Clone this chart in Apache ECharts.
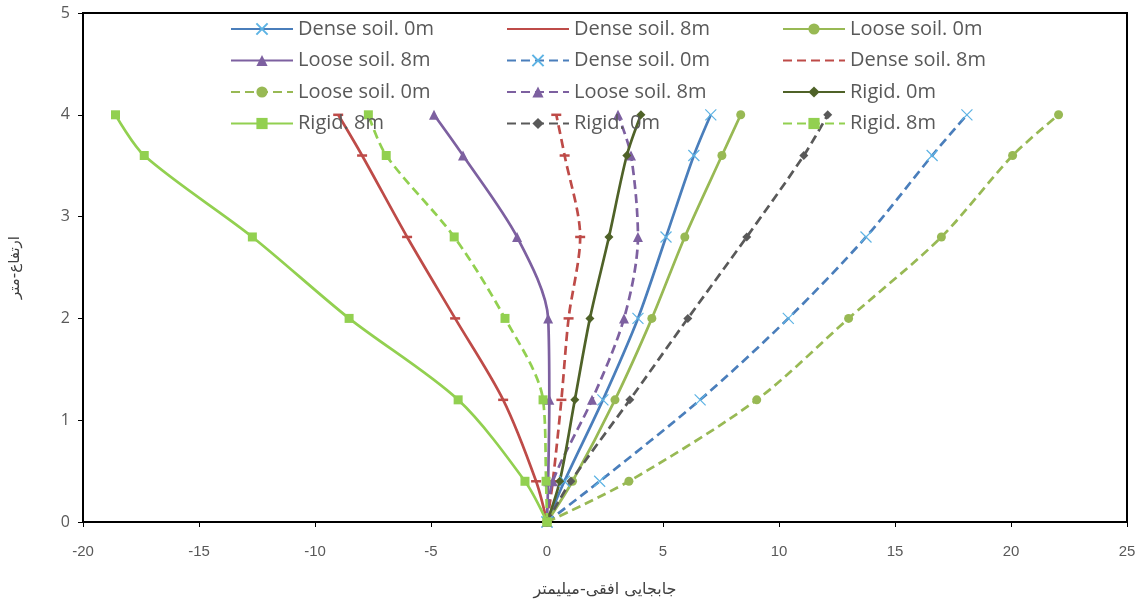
<!DOCTYPE html>
<html>
<head>
<meta charset="utf-8">
<script src="https://cdn.jsdelivr.net/npm/echarts@6/dist/echarts.min.js"></script>
<style>
html,body{margin:0;padding:0;background:#fff;}
#chart{width:1141px;height:603px;}
</style>
</head>
<body>
<div id="chart"></div>
<script>
// Heights (m)
const heights = [0, 0.4, 1.2, 2, 2.8, 3.6, 4];
// Horizontal displacement (mm) for each series, matching heights
const denseSoil0mSolid   = [0, 0.75, 2.41, 3.92, 5.13, 6.33, 7.06];
const denseSoil8mSolid   = [0, -0.47, -1.89, -3.96, -6.03, -7.97, -9.0];
const looseSoil0mSolid   = [0, 1.1, 2.93, 4.52, 5.94, 7.54, 8.35];
const looseSoil8mSolid   = [0, 0.05, 0.1, 0.05, -1.29, -3.62, -4.87];
const denseSoil0mDashed  = [0, 2.27, 6.6, 10.4, 13.75, 16.6, 18.1];
const denseSoil8mDashed  = [0, 0.25, 0.62, 0.93, 1.43, 0.76, 0.4];
const looseSoil0mDashed  = [0, 3.53, 9.04, 13.0, 17.0, 20.07, 22.05];
const looseSoil8mDashed  = [0, 0.25, 1.94, 3.32, 3.92, 3.62, 3.06];
const rigid0mSolid       = [0, 0.55, 1.2, 1.85, 2.67, 3.44, 4.05];
const rigid8mSolid       = [0, -0.95, -3.83, -8.53, -12.7, -17.36, -18.6];
const rigid0mDashed      = [0, 1.03, 3.57, 6.07, 8.61, 11.07, 12.1];
const rigid8mDashed      = [0, -0.04, -0.17, -1.81, -4.0, -6.93, -7.7];

const xTitle = 'جابجایی افقی-میلیمتر';
const yTitle = 'ارتفاع-متر';
const ZW = '\u200B'; // distinguishes duplicate legend names

const X_PATH = 'path://M0,0L10,10M10,0L0,10';

function pairs(xs){ return xs.map((x,i)=>[x, heights[i]]); }

function mk(name, xs, color, dashed, symbol, size, markerStyle){
  return {
    name: name,
    type: 'line',
    data: pairs(xs),
    smooth: 0.3,
    symbol: symbol,
    symbolSize: size,
    showSymbol: true,
    lineStyle: {color: color, width: 2.7, type: dashed ? [9,5] : 'solid', cap: 'butt'},
    itemStyle: markerStyle || {color: color},
    emphasis: {disabled: true},
    animation: false
  };
}

const xMarkStyle = {color: 'rgba(0,0,0,0)', borderColor: '#5DB3E4', borderWidth: 1.2};

const series = [
  mk('Dense soil. 0m', denseSoil0mSolid, '#4A7EBB', false, X_PATH, 11, xMarkStyle),
  mk('Dense soil. 8m', denseSoil8mSolid, '#BE4B48', false, 'rect', [10,2.5]),
  mk('Loose soil. 0m', looseSoil0mSolid, '#98B954', false, 'circle', 9),
  mk('Loose soil. 8m', looseSoil8mSolid, '#7D60A0', false, 'triangle', 10),
  mk('Dense soil. 0m' + ZW, denseSoil0mDashed, '#4A7EBB', true, X_PATH, 11, xMarkStyle),
  mk('Dense soil. 8m' + ZW, denseSoil8mDashed, '#BE4B48', true, 'rect', [10,2.5]),
  mk('Loose soil. 0m' + ZW, looseSoil0mDashed, '#98B954', true, 'circle', 9),
  mk('Loose soil. 8m' + ZW, looseSoil8mDashed, '#7D60A0', true, 'triangle', 10),
  mk('Rigid. 0m', rigid0mSolid, '#4F6228', false, 'diamond', 9),
  mk('Rigid. 8m', rigid8mSolid, '#92D050', false, 'rect', 9),
  mk('Rigid. 0m' + ZW, rigid0mDashed, '#595959', true, 'diamond', 9),
  mk('Rigid. 8m' + ZW, rigid8mDashed, '#92D050', true, 'rect', 9)
];

const legendCols = [
  ['Dense soil. 0m', 'Loose soil. 8m', 'Loose soil. 0m' + ZW, 'Rigid. 8m'],
  ['Dense soil. 8m', 'Dense soil. 0m' + ZW, 'Loose soil. 8m' + ZW, 'Rigid. 0m' + ZW],
  ['Loose soil. 0m', 'Dense soil. 8m' + ZW, 'Rigid. 0m', 'Rigid. 8m' + ZW]
];
const legendLefts = [230, 506, 782];

function legendItem(n){
  if (n.indexOf('Dense soil. 8m') === 0) return {name: n, itemStyle: {opacity: 0}};
  return {name: n};
}

const legends = legendCols.map((d, i) => ({
  data: d.map(legendItem),
  orient: 'vertical',
  left: legendLefts[i],
  top: 19,
  padding: 0,
  itemWidth: 62,
  itemHeight: 14,
  itemGap: 11.5,
  selectedMode: false,
  textStyle: {color: '#595959', fontSize: 20, lineHeight: 20, fontFamily: 'Open Sans', padding: [0,0,0,0]}
}));

const chart = echarts.init(document.getElementById('chart'), null, {renderer: 'canvas'});
chart.setOption({
  backgroundColor: '#fff',
  animation: false,
  legend: legends,
  grid: {left: 79, right: 14, top: 13, bottom: 80, show: true, borderColor: '#000', borderWidth: 2, backgroundColor: 'transparent'},
  xAxis: {
    type: 'value', min: -20, max: 25, interval: 5,
    name: xTitle, nameLocation: 'middle', nameGap: 60,
    nameTextStyle: {color: '#404040', fontSize: 16, fontFamily: 'DejaVu Sans'},
    axisLine: {onZero: false, lineStyle: {color: '#000', width: 2}},
    axisTick: {show: true, length: 5, lineStyle: {color: '#000', width: 1}},
    axisLabel: {color: '#595959', fontSize: 15, margin: 22, fontFamily: 'Liberation Sans Narrow, Liberation Sans'},
    splitLine: {show: false}
  },
  yAxis: {
    type: 'value', min: 0, max: 5, interval: 1,
    name: yTitle, nameLocation: 'middle', nameGap: 60, nameRotate: 90,
    nameTextStyle: {color: '#404040', fontSize: 15, fontFamily: 'DejaVu Sans'},
    axisLine: {onZero: false, lineStyle: {color: '#000', width: 2}},
    axisTick: {show: true, length: 5, lineStyle: {color: '#000', width: 1}},
    axisLabel: {color: '#595959', fontSize: 16, margin: 13, fontFamily: 'Open Sans'},
    splitLine: {show: false}
  },
  series: series
});
</script>
</body>
</html>
